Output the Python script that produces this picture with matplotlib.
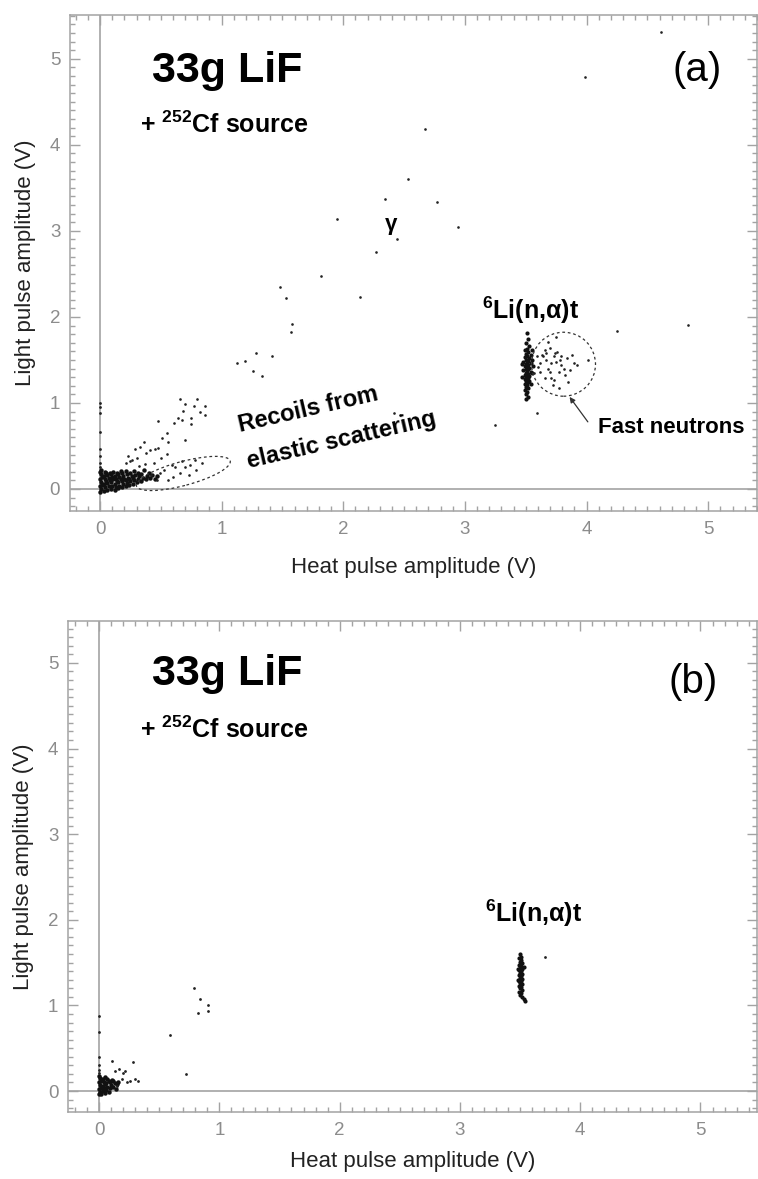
"""Light vs heat pulse amplitude scatter for a 33g LiF bolometer with a 252Cf source."""

import matplotlib

matplotlib.use("Agg")
import matplotlib.pyplot as plt
import numpy as np
from matplotlib.patches import Ellipse
from matplotlib.ticker import MultipleLocator
from matplotlib.transforms import ScaledTranslation

plt.rcParams["font.family"] = ["Liberation Sans", "DejaVu Sans"]

# ---- panel (a) data -------------------------------------------------------
# dense blob at low energy (heat, light)
core_a = [
    (0.00, -0.03), (0.01, 0.00), (0.00, 0.03), (0.02, 0.05), (0.01, 0.08),
    (0.00, 0.11), (0.02, 0.14), (0.01, 0.17), (0.00, 0.20), (0.01, 0.22),
    (0.03, -0.02), (0.04, 0.02), (0.03, 0.06), (0.05, 0.09), (0.04, 0.12),
    (0.03, 0.15), (0.05, 0.18), (0.04, 0.20), (0.06, -0.01), (0.07, 0.03),
    (0.06, 0.07), (0.08, 0.10), (0.07, 0.13), (0.06, 0.16), (0.08, 0.19),
    (0.09, 0.00), (0.10, 0.04), (0.09, 0.08), (0.11, 0.11), (0.10, 0.14),
    (0.09, 0.17), (0.11, 0.20), (0.12, -0.01), (0.13, 0.02), (0.12, 0.06),
    (0.14, 0.09), (0.13, 0.12), (0.12, 0.15), (0.14, 0.18), (0.15, 0.01),
    (0.16, 0.04), (0.15, 0.08), (0.17, 0.11), (0.16, 0.14), (0.15, 0.17),
    (0.17, 0.21), (0.18, 0.02), (0.19, 0.06), (0.18, 0.09), (0.20, 0.12),
    (0.19, 0.15), (0.18, 0.19), (0.21, 0.03), (0.22, 0.07), (0.21, 0.10),
    (0.23, 0.13), (0.22, 0.17), (0.21, 0.21), (0.24, 0.05), (0.25, 0.09),
    (0.24, 0.12), (0.26, 0.15), (0.25, 0.19), (0.27, 0.06), (0.28, 0.10),
    (0.27, 0.13), (0.29, 0.16), (0.28, 0.21), (0.30, 0.08), (0.31, 0.12),
    (0.32, 0.15), (0.31, 0.19), (0.34, 0.09), (0.35, 0.13), (0.34, 0.17),
    (0.36, 0.22), (0.38, 0.11), (0.39, 0.15), (0.41, 0.13), (0.40, 0.19),
    (0.43, 0.16), (0.45, 0.12), (0.47, 0.15),
]
# events sitting on the heat = 0 axis
axis_a = [(0.00, 1.00), (0.00, 0.95), (0.00, 0.88), (0.00, 0.66),
          (0.00, 0.47), (0.00, 0.38), (0.00, 0.30), (0.00, 0.26)]
# diagonal band + recoil band + upper recoil group
recoil_a = [
    (0.36, 0.55), (0.29, 0.46), (0.33, 0.49), (0.41, 0.45), (0.45, 0.47),
    (0.48, 0.48), (0.55, 0.41), (0.23, 0.38), (0.26, 0.34), (0.21, 0.30),
    (0.25, 0.32), (0.30, 0.36), (0.38, 0.42), (0.32, 0.27), (0.37, 0.29),
    (0.44, 0.30), (0.50, 0.36), (0.59, 0.28), (0.62, 0.26), (0.67, 0.32),
    (0.70, 0.25), (0.74, 0.28), (0.78, 0.34), (0.79, 0.22), (0.84, 0.30),
    (0.66, 0.18), (0.73, 0.16), (0.53, 0.22), (0.49, 0.18), (0.60, 0.14),
    (0.42, 0.16), (0.56, 0.10), (0.47, 0.10), (0.66, 1.04), (0.80, 1.05),
    (0.70, 0.99), (0.77, 0.96), (0.86, 0.96), (0.68, 0.91), (0.82, 0.89),
    (0.86, 0.86), (0.64, 0.83), (0.75, 0.83), (0.48, 0.79), (0.61, 0.77),
    (0.67, 0.80), (0.75, 0.76), (0.55, 0.65), (0.51, 0.59), (0.56, 0.55),
    (0.70, 0.57),
]
# gamma band and other isolated events
gamma_a = [
    (4.61, 5.31), (3.99, 4.79), (2.67, 4.19), (2.53, 3.60), (2.34, 3.37),
    (2.77, 3.34), (2.94, 3.05), (2.44, 2.91), (1.95, 3.14), (2.27, 2.76),
    (1.82, 2.48), (1.48, 2.35), (1.53, 2.22), (2.14, 2.23), (1.58, 1.92),
    (1.57, 1.83), (1.13, 1.47), (1.19, 1.49), (1.28, 1.58), (1.26, 1.37),
    (1.33, 1.31), (1.41, 1.54), (4.25, 1.84), (4.83, 1.91), (3.25, 0.74),
    (3.59, 0.88), (2.42, 0.88), (2.47, 0.86),
]
# 6Li(n,alpha)t thermal capture peak
li_a = [
    (3.51, 1.81), (3.52, 1.74), (3.50, 1.70), (3.53, 1.66), (3.51, 1.63),
    (3.49, 1.61), (3.52, 1.59), (3.50, 1.57), (3.54, 1.56), (3.51, 1.54),
    (3.49, 1.53), (3.53, 1.52), (3.50, 1.50), (3.52, 1.49), (3.48, 1.48),
    (3.51, 1.47), (3.54, 1.46), (3.50, 1.45), (3.52, 1.44), (3.49, 1.43),
    (3.51, 1.42), (3.53, 1.41), (3.50, 1.40), (3.52, 1.39), (3.48, 1.38),
    (3.51, 1.37), (3.54, 1.36), (3.50, 1.35), (3.52, 1.34), (3.49, 1.33),
    (3.51, 1.32), (3.53, 1.31), (3.50, 1.30), (3.52, 1.29), (3.49, 1.28),
    (3.51, 1.27), (3.53, 1.26), (3.50, 1.25), (3.52, 1.24), (3.49, 1.22),
    (3.51, 1.21), (3.50, 1.19), (3.52, 1.17), (3.49, 1.15), (3.51, 1.13),
    (3.50, 1.10), (3.52, 1.07), (3.50, 1.04), (3.55, 1.50), (3.56, 1.43),
    (3.55, 1.35), (3.47, 1.45), (3.47, 1.30), (3.55, 1.62), (3.54, 1.22),
]
# fast neutron captures (inside dashed circle)
fast_a = [
    (3.59, 1.54), (3.62, 1.46), (3.63, 1.56), (3.66, 1.62), (3.67, 1.50),
    (3.68, 1.40), (3.70, 1.36), (3.71, 1.46), (3.73, 1.54), (3.74, 1.58),
    (3.75, 1.48), (3.76, 1.59), (3.78, 1.50), (3.79, 1.44), (3.81, 1.40),
    (3.77, 1.36), (3.84, 1.52), (3.86, 1.38), (3.90, 1.46), (3.92, 1.44),
    (4.01, 1.50), (3.71, 1.29), (3.73, 1.27), (3.66, 1.29), (3.77, 1.17),
    (3.68, 1.71), (3.75, 1.77), (3.62, 1.36), (3.57, 1.35), (3.70, 1.64),
    (3.64, 1.54), (3.67, 1.58), (3.82, 1.33), (3.60, 1.42), (3.88, 1.56),
    (3.79, 1.55), (3.85, 1.24), (3.72, 1.21),
]

# ---- panel (b) data -------------------------------------------------------
core_b = [
    (0.00, -0.04), (0.01, -0.01), (0.00, 0.02), (0.02, 0.04), (0.01, 0.07),
    (0.00, 0.10), (0.02, 0.12), (0.01, 0.15), (0.00, 0.17), (0.03, 0.00),
    (0.04, 0.03), (0.03, 0.06), (0.05, 0.08), (0.04, 0.11), (0.03, 0.14),
    (0.05, 0.16), (0.06, 0.01), (0.07, 0.05), (0.06, 0.09), (0.08, 0.12),
    (0.07, 0.14), (0.09, 0.03), (0.10, 0.07), (0.09, 0.10), (0.11, 0.13),
    (0.12, 0.05), (0.13, 0.09), (0.12, 0.12), (0.15, 0.08), (0.16, 0.11),
    (0.02, -0.03), (0.05, -0.02), (0.08, -0.01), (0.14, 0.02),
]
axis_b = [(0.00, 0.88), (0.00, 0.69), (0.00, 0.40), (0.00, 0.30),
          (0.00, 0.25), (0.00, 0.21)]
sparse_b = [
    (0.11, 0.35), (0.28, 0.34), (0.13, 0.23), (0.17, 0.26), (0.20, 0.21),
    (0.22, 0.23), (0.26, 0.12), (0.30, 0.14), (0.32, 0.12), (0.15, 0.06),
    (0.19, 0.14), (0.23, 0.10), (0.59, 0.66), (0.72, 0.20), (0.79, 1.20),
    (0.84, 1.08), (0.82, 0.91), (0.91, 1.00), (0.91, 0.93), (3.71, 1.56),
]
li_b = [
    (3.50, 1.60), (3.51, 1.57), (3.49, 1.55), (3.51, 1.53), (3.50, 1.51),
    (3.52, 1.49), (3.49, 1.47), (3.51, 1.46), (3.50, 1.44), (3.52, 1.43),
    (3.49, 1.41), (3.51, 1.40), (3.50, 1.38), (3.52, 1.37), (3.49, 1.35),
    (3.51, 1.34), (3.50, 1.32), (3.52, 1.31), (3.49, 1.29), (3.51, 1.28),
    (3.50, 1.26), (3.52, 1.25), (3.49, 1.23), (3.51, 1.22), (3.50, 1.20),
    (3.52, 1.18), (3.49, 1.16), (3.51, 1.14), (3.50, 1.12), (3.52, 1.10),
    (3.53, 1.07), (3.54, 1.05), (3.48, 1.42), (3.48, 1.30), (3.53, 1.45),
]

GRAY = "#a3a3a3"
TICKLABEL = "#8c8c8c"


def style_axes(ax, xlim, ylim, xpad):
    ax.set_xlim(*xlim)
    ax.set_ylim(*ylim)
    ax.xaxis.set_major_locator(MultipleLocator(1))
    ax.yaxis.set_major_locator(MultipleLocator(1))
    ax.xaxis.set_minor_locator(MultipleLocator(0.1))
    ax.yaxis.set_minor_locator(MultipleLocator(0.1))
    ax.tick_params(which="both", direction="in", top=True, right=True,
                   color=GRAY, width=1.0)
    ax.tick_params(which="major", length=7, labelsize=13.5,
                   labelcolor=TICKLABEL, pad=7)
    ax.tick_params(which="minor", length=3.5)
    for sp in ax.spines.values():
        sp.set_color(GRAY)
        sp.set_linewidth(1.1)
    ax.axvline(0, color=GRAY, lw=1.2, zorder=1)
    ax.axhline(0, color=GRAY, lw=1.2, zorder=1)
    ax.set_xlabel("Heat pulse amplitude (V)", fontsize=16, color="#222222",
                  labelpad=xpad)
    ax.set_ylabel("Light pulse amplitude (V)", fontsize=16, color="#222222",
                  labelpad=10)


def dots(ax, pts, ms=1.9, color="#222222"):
    arr = np.array(pts)
    ax.plot(arr[:, 0], arr[:, 1], "o", ms=ms, mew=0, color=color, zorder=3)


def dashed_ring(fig, ax, cx, cy, w_in, h_in, angle):
    # size given in inches so the shape keeps its on-page look
    tr = fig.dpi_scale_trans + ScaledTranslation(cx, cy, ax.transData)
    ax.add_patch(Ellipse((0, 0), w_in, h_in, angle=angle, transform=tr,
                         fill=False, ec="#333333", lw=0.9,
                         ls=(0, (2.2, 2.2)), zorder=4))


def label_block(ax, panel, xy_title, xy_src, xy_panel, xy_li):
    ax.text(*xy_title, "33g LiF", fontsize=31, fontweight="bold",
            ha="left", va="baseline")
    ax.text(*xy_src, r"+ $\mathregular{^{252}}$Cf source", fontsize=18,
            fontweight="bold", ha="left", va="baseline")
    ax.text(*xy_panel, f"({panel})", fontsize=29, ha="center", va="center")
    ax.text(*xy_li, r"$\mathregular{^6}$Li(n,α)t", fontsize=18,
            fontweight="bold", ha="left", va="baseline")


fig = plt.figure(figsize=(7.58, 11.79), dpi=100)
ax_a = fig.add_axes([0.0923, 0.5666, 0.9063, 0.4207])
ax_b = fig.add_axes([0.0897, 0.0568, 0.9090, 0.4165])

# ---- (a)
style_axes(ax_a, (-0.247, 5.40), (-0.256, 5.51), xpad=14)
dots(ax_a, core_a, ms=3.2, color="#111111")
dots(ax_a, axis_a, ms=2.0)
dots(ax_a, recoil_a)
dots(ax_a, gamma_a)
dots(ax_a, li_a, ms=3.0, color="#111111")
dots(ax_a, fast_a)
label_block(ax_a, "a", (0.43, 4.73), (0.33, 4.14), (4.91, 4.87), (3.14, 1.97))
ax_a.text(2.39, 3.07, "γ", fontsize=16, fontweight="bold",
          ha="center", va="center")
ax_a.text(1.15, 0.66, "Recoils from", fontsize=17, fontweight="bold",
          rotation=13, rotation_mode="anchor", ha="left", va="baseline")
ax_a.text(1.22, 0.24, "elastic scattering", fontsize=17, fontweight="bold",
          rotation=13, rotation_mode="anchor", ha="left", va="baseline")
ax_a.text(4.09, 0.65, "Fast neutrons", fontsize=16, fontweight="bold",
          ha="left", va="baseline")
dashed_ring(fig, ax_a, 0.685, 0.18, 0.97, 0.24, 15)
dashed_ring(fig, ax_a, 3.81, 1.45, 0.64, 0.64, 0)
ax_a.annotate("", xy=(3.86, 1.07), xytext=(4.01, 0.78),
              arrowprops=dict(arrowstyle="-|>", lw=0.9, color="#333333",
                              mutation_scale=8, shrinkA=0, shrinkB=0))

# ---- (b)
style_axes(ax_b, (-0.258, 5.47), (-0.245, 5.49), xpad=9)
dots(ax_b, core_b, ms=3.2, color="#111111")
dots(ax_b, axis_b, ms=2.0)
dots(ax_b, sparse_b, ms=2.0)
dots(ax_b, li_b, ms=3.0, color="#111111")
label_block(ax_b, "b", (0.44, 4.74), (0.34, 4.12), (4.94, 4.78), (3.21, 1.97))

fig.savefig("out.png", dpi=100)
